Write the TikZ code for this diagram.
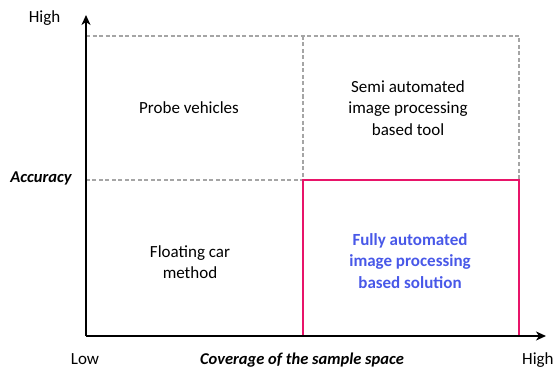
\documentclass[tikz,border=0pt]{standalone}
\usepackage{fontspec}
\setmainfont{Carlito}
\usetikzlibrary{arrows.meta}
\definecolor{pinkline}{RGB}{232,20,105}
\definecolor{bluetxt}{RGB}{72,88,232}
\definecolor{dashgray}{RGB}{165,165,165}
\begin{document}
\begin{tikzpicture}[x=1pt,y=-1pt,
  axis/.style={line width=2.4pt,-{Stealth[length=10pt,width=9pt,inset=3pt]}},
  grid/.style={draw=dashgray,line width=1.1pt,dash pattern=on 4pt off 2.5pt},
  quad/.style={font=\fontsize{17}{21.5}\selectfont,align=center,text=black},
  lbl/.style={font=\fontsize{17}{20}\selectfont,text=black},
  title/.style={font=\fontsize{16.5}{20}\selectfont\bfseries\itshape,text=black}]
\useasboundingbox (0,0) rectangle (557,369);
% coordinates
\coordinate (O) at (86,336);
\coordinate (Ytip) at (86,15);
\coordinate (Xtip) at (546,336);
\coordinate (TL) at (86,36);
\coordinate (TM) at (303,36);
\coordinate (TR) at (519,36);
\coordinate (ML) at (86,180);
\coordinate (MM) at (303,180);
\coordinate (MR) at (519,180);
\coordinate (BM) at (303,336);
\coordinate (BR) at (519,336);
% dashed grid
\draw[grid] (TL) -- (TR) -- (MR);
\draw[grid] (TM) -- (MM) -- (ML);
% highlighted quadrant
\draw[pinkline,line width=2.6pt] (MM) rectangle (BR);
% axes
\draw[axis] (O) -- (Ytip);
\draw[axis] (O) -- (Xtip);
% labels
\node[lbl] (yhigh) at (44.5,18) {High};
\node[title] (yacc) at (41,178) {Accuracy};
\node[lbl,anchor=base,inner sep=0pt] (xlow) at (85,364.5) {Low};
\node[title,anchor=base,inner sep=0pt] (xcov) at (302,364) {Coverage of the sample space};
\node[lbl,anchor=base west,inner sep=0pt] (xhigh) at (522,364.5) {High};
% quadrant texts
\node[quad] (q1) at (189,108) {Probe vehicles};
\node[quad] (q2) at (408,108) {Semi automated\\image processing\\based tool};
\node[quad] (q3) at (190,262) {Floating car\\method};
\node[quad,text=bluetxt,font=\fontsize{17}{21.5}\selectfont\bfseries] (q4) at (410,261) {Fully automated\\image processing\\based solution};
\end{tikzpicture}
\end{document}
